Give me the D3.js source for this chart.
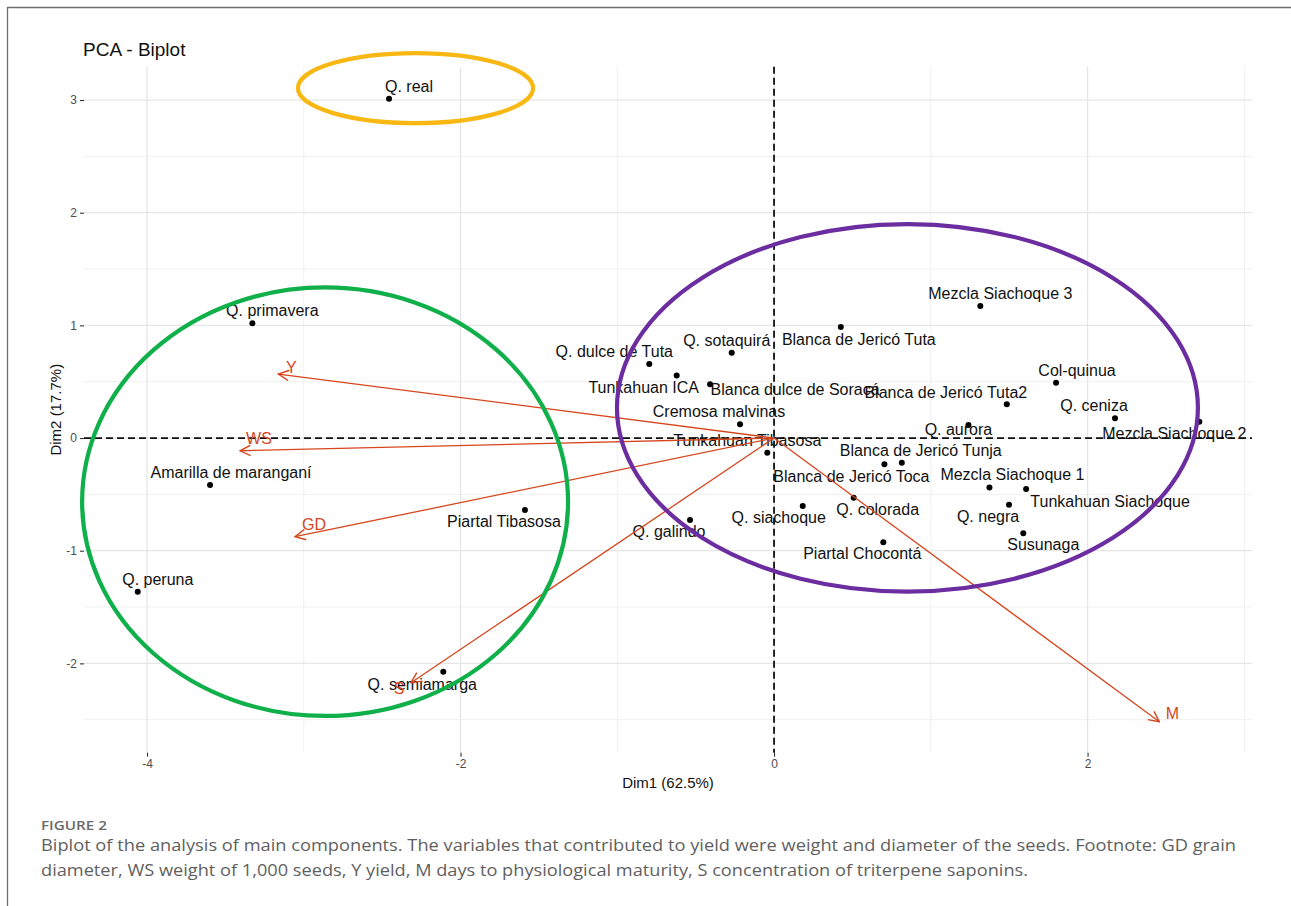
<!DOCTYPE html>
<html>
<head>
<meta charset="utf-8">
<script src="https://cdn.jsdelivr.net/npm/d3@7"></script>
<style>
  body { margin: 0; background: #fff; }
  svg { display: block; }
</style>
</head>
<body>
<div id="chart"></div>
<script>
// individuals (PCA scores)
const indNames = ["Q. real", "Q. primavera", "Amarilla de maranganí", "Q. peruna", "Q. semiamarga",
  "Piartal Tibasosa", "Q. galindo", "Q. dulce de Tuta", "Tunkahuan ICA", "Q. sotaquirá",
  "Blanca dulce de Soracá", "Cremosa malvinas", "Tunkahuan Tibasosa", "Blanca de Jericó Tuta",
  "Mezcla Siachoque 3", "Col-quinua", "Blanca de Jericó Tuta2", "Q. ceniza", "Mezcla Siachoque 2",
  "Q. aurora", "Blanca de Jericó Tunja", "Blanca de Jericó Toca", "Mezcla Siachoque 1",
  "Tunkahuan Siachoque", "Q. negra", "Susunaga", "Q. colorada", "Q. siachoque", "Piartal Chocontá"];
const indDim1 = [-2.456, -3.328, -3.598, -4.059, -2.110, -1.589, -0.536, -0.796, -0.621, -0.270,
  -0.408, -0.217, -0.043, 0.426, 1.316, 1.799, 1.485, 2.175, 2.713, 1.240, 0.815, 0.704, 1.374,
  1.608, 1.499, 1.590, 0.508, 0.183, 0.697];
const indDim2 = [3.011, 1.018, -0.417, -1.364, -2.074, -0.639, -0.728, 0.657, 0.556, 0.757,
  0.477, 0.122, -0.130, 0.985, 1.172, 0.491, 0.299, 0.175, 0.145, 0.115, -0.219, -0.233, -0.438,
  -0.453, -0.592, -0.846, -0.530, -0.604, -0.926];

// variables (arrows)
const varNames = ["Y", "WS", "GD", "S", "M"];
const varDim1 = [-3.162, -3.407, -3.056, -2.316, 2.458];
const varDim2 = [0.568, -0.113, -0.876, -2.172, -2.518];

// axis ticks
const xTicks = [-4, -2, 0, 2];
const xTickLabels = ["-4", "-2", "0", "2"];
const yTicks = [-2, -1, 0, 1, 2, 3];
const yTickLabels = ["-2", "-1", "0", "1", "2", "3"];

// group ellipses drawn over the plot (data units)
const ellipseCx = [-2.287, -2.864, 0.851];
const ellipseCy = [3.106, -0.565, 0.268];
const ellipseRx = [0.750, 1.550, 1.853];
const ellipseRy = [0.311, 1.902, 1.631];
const ellipseColors = ["#F8B713", "#0FB04A", "#6B2DA0"];

// label nudges in px (layout only)
const labelNudge = {
  "Q. real": [20, -7], "Q. primavera": [20, -7], "Amarilla de maranganí": [21, -7],
  "Q. peruna": [20, -7], "Q. semiamarga": [-21, 18], "Piartal Tibasosa": [-21, 17],
  "Q. galindo": [-21, 17], "Q. dulce de Tuta": [-35, -7], "Tunkahuan ICA": [-33, 18],
  "Q. sotaquirá": [-5, -7], "Blanca dulce de Soracá": [85, 11], "Cremosa malvinas": [-21, -7],
  "Tunkahuan Tibasosa": [-20, -7], "Blanca de Jericó Tuta": [18, 18], "Mezcla Siachoque 3": [20, -7],
  "Col-quinua": [21, -7], "Blanca de Jericó Tuta2": [-61, -6], "Q. ceniza": [-21, -7],
  "Mezcla Siachoque 2": [-25, 17], "Q. aurora": [-10, 10], "Blanca de Jericó Tunja": [19, -7],
  "Blanca de Jericó Toca": [-33, 18], "Mezcla Siachoque 1": [23, -7], "Tunkahuan Siachoque": [84, 18],
  "Q. negra": [-21, 17], "Susunaga": [20, 17], "Q. colorada": [24, 17], "Q. siachoque": [-24, 17],
  "Piartal Chocontá": [-21, 17]
};
const varNudge = { "Y": [13, -1], "WS": [19, -7], "GD": [19, -7], "S": [-12, 11], "M": [13, -3] };

const width = 1291, height = 906;
const panel = { left: 84, right: 1252, top: 66.7, bottom: 752.7 };
const varColor = "#D5461D";
const font = "'Liberation Sans', Arial, Helvetica, sans-serif";

let svg = d3.select("#chart").append("svg")
  .attr("width", width)
  .attr("height", height)
  .style("font-family", font);

// frame of the figure box
svg.append("path")
  .attr("d", "M7.5," + height + "V7.5H" + width)
  .attr("fill", "none")
  .attr("stroke", "#6e6e6e")
  .attr("stroke-width", 1.3);

let x = d3.scaleLinear().domain([-4.402, 3.049]).range([panel.left, panel.right]);
let y = d3.scaleLinear().domain([-2.793, 3.296]).range([panel.bottom, panel.top]);

// grid
let grid = svg.append("g");
let xMinor = xTicks.map(function(t) { return t + 1; });
let yMinor = [-2.5, -1.5, -0.5, 0.5, 1.5, 2.5];
grid.selectAll(".vminor").data(xMinor).enter().append("line")
  .attr("x1", d => x(d)).attr("x2", d => x(d))
  .attr("y1", panel.top).attr("y2", panel.bottom)
  .attr("stroke", "#eeeeee").attr("stroke-width", 0.9);
grid.selectAll(".hminor").data(yMinor).enter().append("line")
  .attr("y1", d => y(d)).attr("y2", d => y(d))
  .attr("x1", panel.left).attr("x2", panel.right)
  .attr("stroke", "#eeeeee").attr("stroke-width", 0.9);
grid.selectAll(".vmajor").data(xTicks).enter().append("line")
  .attr("x1", d => x(d)).attr("x2", d => x(d))
  .attr("y1", panel.top).attr("y2", panel.bottom)
  .attr("stroke", "#e6e6e6").attr("stroke-width", 1.3);
grid.selectAll(".hmajor").data(yTicks).enter().append("line")
  .attr("y1", d => y(d)).attr("y2", d => y(d))
  .attr("x1", panel.left).attr("x2", panel.right)
  .attr("stroke", "#e6e6e6").attr("stroke-width", 1.3);

// axes
let xAxis = svg.append("g")
  .attr("transform", "translate(0," + panel.bottom + ")")
  .call(d3.axisBottom(x).tickValues(xTicks).tickSize(4).tickPadding(3)
    .tickFormat(function(d, i) { return xTickLabels[i]; }));
let yAxis = svg.append("g")
  .attr("transform", "translate(" + panel.left + ",0)")
  .call(d3.axisLeft(y).tickValues(yTicks).tickSize(4).tickPadding(3)
    .tickFormat(function(d, i) { return yTickLabels[i]; }));
[xAxis, yAxis].forEach(function(a) {
  a.select(".domain").remove();
  a.selectAll(".tick line").attr("stroke", "#333").attr("stroke-width", 1.1);
  a.selectAll(".tick text").attr("fill", "#4d4d4d").style("font-size", "12px").style("font-family", font);
});

// zero reference lines
svg.append("line")
  .attr("x1", panel.left).attr("x2", panel.right)
  .attr("y1", y(0)).attr("y2", y(0))
  .attr("stroke", "#111").attr("stroke-width", 1.8).attr("stroke-dasharray", "7,4");
svg.append("line")
  .attr("x1", x(0)).attr("x2", x(0))
  .attr("y1", panel.top).attr("y2", panel.bottom)
  .attr("stroke", "#111").attr("stroke-width", 1.8).attr("stroke-dasharray", "7,4");

// individuals
let inds = indNames.map(function(n, i) { return { name: n, d1: indDim1[i], d2: indDim2[i] }; });
svg.append("g").selectAll("circle").data(inds).enter().append("circle")
  .attr("cx", d => x(d.d1)).attr("cy", d => y(d.d2))
  .attr("r", 3).attr("fill", "#000");
svg.append("g").selectAll("text").data(inds).enter().append("text")
  .attr("x", d => x(d.d1) + labelNudge[d.name][0])
  .attr("y", d => y(d.d2) + labelNudge[d.name][1])
  .attr("text-anchor", "middle")
  .attr("fill", "#111")
  .style("font-size", "16px")
  .text(d => d.name);

// variable arrows
let defs = svg.append("defs");
defs.append("marker")
  .attr("id", "head")
  .attr("viewBox", "0 0 12 12")
  .attr("refX", 11).attr("refY", 6)
  .attr("markerWidth", 12).attr("markerHeight", 12)
  .attr("markerUnits", "userSpaceOnUse")
  .attr("orient", "auto")
  .append("path")
  .attr("d", "M0.5,0.8L11,6L0.5,11.2")
  .attr("fill", "none")
  .attr("stroke", varColor)
  .attr("stroke-width", 1.4);

let vars = varNames.map(function(n, i) { return { name: n, d1: varDim1[i], d2: varDim2[i] }; });
svg.append("g").selectAll("line").data(vars).enter().append("line")
  .attr("x1", x(0)).attr("y1", y(0))
  .attr("x2", d => x(d.d1)).attr("y2", d => y(d.d2))
  .attr("stroke", varColor).attr("stroke-width", 1.3)
  .attr("marker-end", "url(#head)");
svg.append("g").selectAll("text").data(vars).enter().append("text")
  .attr("x", d => x(d.d1) + varNudge[d.name][0])
  .attr("y", d => y(d.d2) + varNudge[d.name][1])
  .attr("text-anchor", "middle")
  .attr("fill", varColor)
  .style("font-size", "16px")
  .text(d => d.name);

// ellipses
let ell = ellipseCx.map(function(c, i) {
  return { cx: c, cy: ellipseCy[i], rx: ellipseRx[i], ry: ellipseRy[i], color: ellipseColors[i] };
});
svg.append("g").selectAll("ellipse").data(ell).enter().append("ellipse")
  .attr("cx", d => x(d.cx)).attr("cy", d => y(d.cy))
  .attr("rx", d => x(d.rx) - x(0)).attr("ry", d => y(0) - y(d.ry))
  .attr("fill", "none")
  .attr("stroke", d => d.color)
  .attr("stroke-width", 4.2);

// titles
svg.append("text")
  .attr("x", 83).attr("y", 56)
  .attr("fill", "#111")
  .style("font-size", "19px")
  .text("PCA - Biplot");
svg.append("text")
  .attr("x", (panel.left + panel.right) / 2).attr("y", 788)
  .attr("text-anchor", "middle")
  .attr("fill", "#111")
  .style("font-size", "15px")
  .text("Dim1 (62.5%)");
svg.append("text")
  .attr("transform", "translate(61," + ((panel.top + panel.bottom) / 2) + ") rotate(-90)")
  .attr("text-anchor", "middle")
  .attr("fill", "#111")
  .style("font-size", "15px")
  .text("Dim2 (17.7%)");

// caption
const capFont = "'Open Sans', 'Noto Sans', sans-serif";
svg.append("text")
  .attr("x", 41).attr("y", 829.5)
  .attr("fill", "#6a6a6a")
  .style("font-family", capFont)
  .style("font-size", "12.5px")
  .style("font-weight", 600)
  .attr("textLength", 66).attr("lengthAdjust", "spacingAndGlyphs")
  .text("FIGURE 2");
let capLines = [
  ["Biplot of the analysis of main components. The variables that contributed to yield were weight and diameter of the seeds. Footnote: GD grain", 851, 1195],
  ["diameter, WS weight of 1,000 seeds, Y yield, M days to physiological maturity, S concentration of triterpene saponins.", 876, 987]
];
capLines.forEach(function(l) {
  svg.append("text")
    .attr("x", 41).attr("y", l[1])
    .attr("fill", "#5f5f5f")
    .style("font-family", capFont)
    .style("font-size", "17px")
    .attr("textLength", l[2]).attr("lengthAdjust", "spacingAndGlyphs")
    .text(l[0]);
});
</script>
</body>
</html>
